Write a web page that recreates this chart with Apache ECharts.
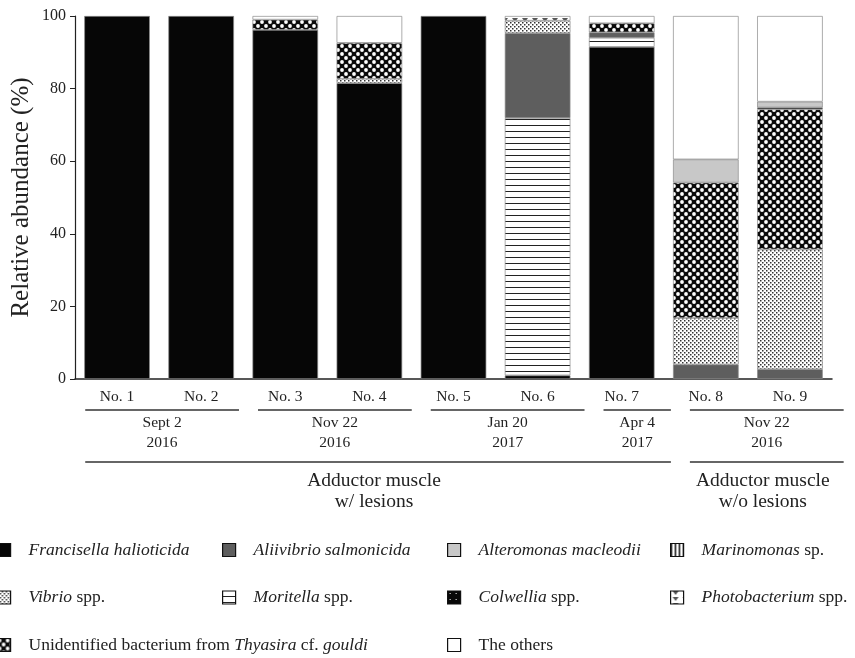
<!DOCTYPE html>
<html>
<head>
<meta charset="utf-8">
<script src="https://cdn.jsdelivr.net/npm/echarts@6/dist/echarts.min.js"></script>
<style>html,body{margin:0;padding:0;background:#fff}#c{width:855px;height:658px}</style>
</head>
<body>
<div id="c"></div>
<script>
// ---- data ----
const categories = ['No. 1','No. 2','No. 3','No. 4','No. 5','No. 6','No. 7','No. 8','No. 9'];
const francisella    = [100, 100, 96.2, 81.5, 100, 1.0, 91.5, 0, 0];
const moritella      = [0, 0, 0, 0, 0, 70.9, 2.5, 0, 0];
const aliivibrio     = [0, 0, 0, 0, 0, 23.4, 1.5, 4.0, 2.7];
const vibrio         = [0, 0, 0, 1.2, 0, 3.4, 0, 12.8, 33.0];
const unidentified   = [0, 0, 2.8, 9.9, 0, 0, 2.5, 37.3, 38.6];
const colwellia      = [0, 0, 0, 0, 0, 0, 0, 0, 0.5];
const photobacterium = [0, 0, 0, 0, 0, 1.3, 0, 0, 0];
const marinomonas    = [0, 0, 0, 0, 0, 0, 0, 0, 0];
const alteromonas    = [0, 0, 0, 0, 0, 0, 0, 6.4, 1.6];
const others         = [0, 0, 1.0, 7.4, 0, 0, 2.0, 39.5, 23.6];
const yTicks = [0, 20, 40, 60, 80, 100];
const dateGroups = [
  {from: 0, to: 1, lines: ['Sept 2', '2016']},
  {from: 2, to: 3, lines: ['Nov 22', '2016']},
  {from: 4, to: 5, lines: ['Jan 20', '2017']},
  {from: 6, to: 6, lines: ['Apr 4', '2017']},
  {from: 7, to: 8, lines: ['Nov 22', '2016']}
];
const tissueGroups = [
  {from: 0, to: 6, lines: ['Adductor muscle', 'w/ lesions']},
  {from: 7, to: 8, lines: ['Adductor muscle', 'w/o lesions']}
];

// ---- patterns ----
function tile(w, h, draw) {
  const c = document.createElement('canvas');
  c.width = w; c.height = h;
  const g = c.getContext('2d');
  draw(g, w, h);
  return {image: c, repeat: 'repeat'};
}
const pat = {
  francisella: '#060606',
  aliivibrio: '#5e5e5e',
  alteromonas: '#c8c8c8',
  others: '#ffffff',
  marinomonas: tile(4, 4, (g) => { g.fillStyle = '#fff'; g.fillRect(0,0,4,4); g.fillStyle = '#111'; g.fillRect(0,0,1.5,4); }),
  vibrio: tile(4, 4, (g) => { g.fillStyle = '#fff'; g.fillRect(0,0,4,4); g.fillStyle = '#333'; g.fillRect(0,0,1.5,1.5); g.fillRect(2,2,1.5,1.5); }),
  moritella: tile(4, 6, (g) => { g.fillStyle = '#fff'; g.fillRect(0,0,4,6); g.fillStyle = '#222'; g.fillRect(0,5,4,1); }),
  colwellia: tile(6, 6, (g) => { g.fillStyle = '#080808'; g.fillRect(0,0,6,6); g.fillStyle = '#fff'; g.fillRect(2,2,1,1); }),
  photobacterium: tile(10, 6, (g) => { g.fillStyle = '#fff'; g.fillRect(0,0,10,6); g.fillStyle = '#555'; g.beginPath(); g.moveTo(2,0); g.lineTo(8,0); g.lineTo(5,4); g.closePath(); g.fill(); }),
  unidentified: tile(8, 8, (g) => { g.fillStyle = '#0a0a0a'; g.fillRect(0,0,8,8); g.fillStyle = '#fff';
    g.beginPath(); g.arc(2,2,1.9,0,Math.PI*2); g.fill();
    g.beginPath(); g.arc(6,6,1.9,0,Math.PI*2); g.fill(); })
};

const F = 'Liberation Serif, Times New Roman, serif';
const seriesDefs = [
  ['Francisella', francisella, pat.francisella],
  ['Moritella', moritella, pat.moritella],
  ['Aliivibrio', aliivibrio, pat.aliivibrio],
  ['Vibrio', vibrio, pat.vibrio],
  ['Unidentified', unidentified, pat.unidentified],
  ['Colwellia', colwellia, pat.colwellia],
  ['Photobacterium', photobacterium, pat.photobacterium],
  ['Marinomonas', marinomonas, pat.marinomonas],
  ['Alteromonas', alteromonas, pat.alteromonas],
  ['Others', others, pat.others]
];
const legendText = {
  Francisella: '{i|Francisella halioticida}',
  Aliivibrio: '{i|Aliivibrio salmonicida}',
  Alteromonas: '{i|Alteromonas macleodii}',
  Marinomonas: '{i|Marinomonas}{r| sp.}',
  Vibrio: '{i|Vibrio}{r| spp.}',
  Moritella: '{i|Moritella}{r| spp.}',
  Colwellia: '{i|Colwellia}{r| spp.}',
  Photobacterium: '{i|Photobacterium}{r| spp.}',
  Unidentified: '{r|Unidentified bacterium from }{i|Thyasira}{r| cf. }{i|gouldi}',
  Others: '{r|The others}'
};
const legendCols = [
  {left: -3, names: ['Francisella', 'Vibrio', 'Unidentified']},
  {left: 222, names: ['Aliivibrio', 'Moritella']},
  {left: 447, names: ['Alteromonas', 'Colwellia', 'Others']},
  {left: 670, names: ['Marinomonas', 'Photobacterium']}
];

const chart = echarts.init(document.getElementById('c'));
const option = {
  animation: false,
  backgroundColor: '#fff',
  grid: {left: 75, right: 23, top: 16, bottom: 279, outerBoundsMode: 'none', containLabel: false},
  xAxis: {
    type: 'category', data: categories,
    axisLine: {lineStyle: {color: '#222', width: 1.5}},
    axisTick: {show: false},
    axisLabel: {fontFamily: F, fontSize: 15.5, color: '#222', margin: 10}
  },
  yAxis: {
    type: 'value', min: 0, max: 100, interval: 20,
    name: 'Relative abundance (%)', nameLocation: 'middle', nameGap: 41, nameMoveOverlap: false,
    nameTextStyle: {fontFamily: F, fontSize: 25, color: '#222'},
    axisLine: {show: true, lineStyle: {color: '#222', width: 1.2}},
    axisTick: {show: true, length: 5, lineStyle: {color: '#222'}},
    splitLine: {show: false},
    axisLabel: {fontFamily: F, fontSize: 16, color: '#222', margin: 9,
      formatter: (v) => yTicks.includes(v) ? String(v) : ''}
  },
  legend: legendCols.map(col => ({
    orient: 'vertical', left: col.left, top: 541, height: 200, padding: 0,
    itemWidth: 13, itemHeight: 13, itemGap: 29.5,
    icon: 'rect',
    selectedMode: false,
    data: col.names,
    itemStyle: {borderColor: '#111', borderWidth: 1.2},
    formatter: (n) => legendText[n],
    textStyle: {fontFamily: F, fontSize: 17.5, color: '#222', lineHeight: 18, padding: [0, 0, 0, 13],
      rich: {i: {fontFamily: F, fontSize: 17.5, fontStyle: 'italic', color: '#222'},
             r: {fontFamily: F, fontSize: 17.5, color: '#222'}}}
  })),
  series: seriesDefs.map(([name, vals, color]) => ({
    name, type: 'bar', stack: 'total', barWidth: '78%',
    data: vals.map(v => v === 0 ? '-' : v),
    itemStyle: {color, borderColor: '#8a8a8a', borderWidth: 0.7}
  }))
};
chart.setOption(option);

// ---- group annotations below the axis ----
function px(i) { return chart.convertToPixel({xAxisIndex: 0}, i); }
const half = (px(1) - px(0)) * 0.39;
const stretch = (x) => 1.027 * x - 1.3;
const gfx = [];
function addGroups(groups, lineY, textY1, textY2, fs, dx) {
  groups.forEach(gr => {
    const x1 = stretch(px(gr.from) - half), x2 = stretch(px(gr.to) + half);
    const cx = (x1 + x2) / 2 + (dx || 0);
    gfx.push({type: 'line', shape: {x1, y1: lineY, x2, y2: lineY}, style: {stroke: '#333', lineWidth: 1.5}});
    gfx.push({type: 'text', x: cx, y: textY1, style: {text: gr.lines[0], fontFamily: F, fontSize: fs, fill: '#222', align: 'center', verticalAlign: 'middle'}});
    gfx.push({type: 'text', x: cx, y: textY2, style: {text: gr.lines[1], fontFamily: F, fontSize: fs, fill: '#222', align: 'center', verticalAlign: 'middle'}});
  });
}
addGroups(dateGroups, 410, 423, 443, 15.5, 0);
addGroups(tissueGroups, 462, 481, 502, 19.5, -4);
chart.setOption({graphic: gfx});
</script>
</body>
</html>
